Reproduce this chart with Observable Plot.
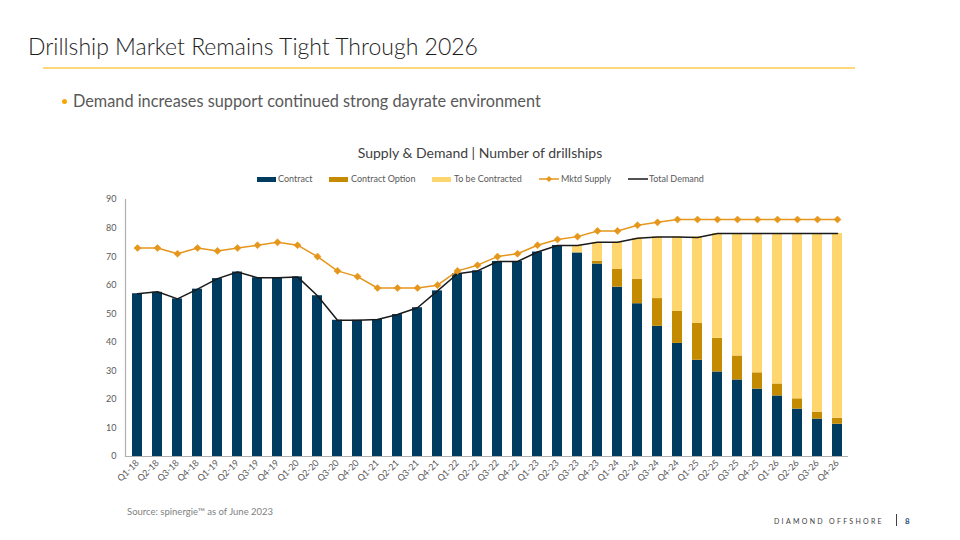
<!DOCTYPE html>
<html><head><meta charset="utf-8">
<script src="https://cdn.jsdelivr.net/npm/d3@7"></script>
<script src="https://cdn.jsdelivr.net/npm/@observablehq/plot@0.6"></script>
<style>
body{margin:0;background:#fff;}
#page{position:relative;width:960px;height:540px;overflow:hidden;font-family:Lato,"Open Sans",sans-serif;}
.abs{position:absolute;white-space:nowrap;}
#title{left:28px;top:32px;font-size:23px;font-weight:300;color:#1e1e1e;}
#rule{left:43px;top:67px;width:812px;height:2px;background:#FFD77A;}
#bullet{left:73px;top:91px;font-size:16.3px;color:#595959;}
#dot{left:62px;top:99px;width:5px;height:5px;border-radius:50%;background:#F5A800;}
#ctitle{left:0;width:960px;text-align:center;top:144px;font-size:14px;color:#404040;}
.lg{position:absolute;top:173px;font-size:9px;color:#595959;line-height:12px;}
.sw{position:absolute;top:177px;height:5px;}
#chart{left:80px;top:190px;}
#source{left:127px;top:506px;font-size:9.5px;color:#7f7f7f;}
#brand{left:774px;top:517px;font-size:7px;letter-spacing:2.3px;color:#404040;}
#bar{left:896px;top:514px;width:0;height:12px;border-left:1px solid #404040;}
#pg{left:905px;top:516px;font-size:8px;font-weight:bold;color:#1F4E79;}
</style></head>
<body><div id="page">
<div id="title" class="abs">Drillship Market Remains Tight Through 2026</div>
<div id="rule" class="abs"></div>
<div id="dot" class="abs"></div>
<div id="bullet" class="abs">Demand increases support continued strong dayrate environment</div>
<div id="ctitle" class="abs">Supply &amp; Demand | Number of drillships</div>
<div id="legend"></div>
<div id="chart" class="abs"></div>
<div id="source" class="abs">Source: spinergie™ as of June 2023</div>
<div id="brand" class="abs">DIAMOND OFFSHORE</div>
<div id="bar" class="abs"></div>
<div id="pg" class="abs">8</div>
</div>
<script>
const quarters = ["Q1-18","Q2-18","Q3-18","Q4-18","Q1-19","Q2-19","Q3-19","Q4-19","Q1-20","Q2-20","Q3-20","Q4-20","Q1-21","Q2-21","Q3-21","Q4-21","Q1-22","Q2-22","Q3-22","Q4-22","Q1-23","Q2-23","Q3-23","Q4-23","Q1-24","Q2-24","Q3-24","Q4-24","Q1-25","Q2-25","Q3-25","Q4-25","Q1-26","Q2-26","Q3-26","Q4-26"];
const contract = [57,57.5,55.2,58.6,62.3,64.6,62.6,62.6,62.9,56.3,47.7,47.7,48,49.7,52.1,58,64,65,68.3,68.3,71.6,73.9,71.3,67.4,59.3,53.5,45.6,39.6,33.7,29.6,26.8,23.6,21.2,16.6,13.1,11.3];
const contractOption = [0,0,0,0,0,0,0,0,0,0,0,0,0,0,0,0,0,0,0,0,0,0,0,1.0,6.2,8.6,9.7,11.2,12.9,11.8,8.4,5.7,4.2,3.6,2.4,2.1];
const toBeContracted = [0,0,0,0,0,0,0,0,0,0,0,0,0,0,0,0,0,0,0,0,0,0,2.6,6.6,9.5,14.3,21.6,26.1,30.3,36.7,42.9,48.8,52.7,57.9,62.6,64.7];
const mktdSupply = [73,73,71,73,72,73,74,75,74,70,65,63,59,59,59,60,65,67,70,71,74,76,77,79,79,81,82,83,83,83,83,83,83,83,83,83];
const totalDemand = [57,57.7,55.2,58.6,62.3,64.6,62.6,62.6,62.9,56.3,47.7,47.7,48,49.7,52.1,58,64,65,68.3,68.3,71.6,73.9,73.9,75,75,76.4,76.9,76.9,76.7,78.1,78.1,78.1,78.1,78.1,78.1,78.1];
const yTicks = [0,10,20,30,40,50,60,70,80,90];
const seriesNames = ["Contract","Contract Option","To be Contracted"];
const seriesColors = ["#003C5F","#C58B00","#FFD66E"];
const supplyColor = "#E5961B";
const demandColor = "#1a1a1a";

// legend
const legend = document.getElementById("legend");
const legendItems = [
  {name:"Contract", sx:257, tx:278, kind:"bar", color:seriesColors[0]},
  {name:"Contract Option", sx:329, tx:351, kind:"bar", color:seriesColors[1]},
  {name:"To be Contracted", sx:432, tx:454, kind:"bar", color:seriesColors[2]},
  {name:"Mktd Supply", sx:539, tx:561, kind:"marker", color:supplyColor},
  {name:"Total Demand", sx:628, tx:649, kind:"line", color:demandColor}
];
legendItems.forEach(it=>{
  if(it.kind==="bar"){
    const s=document.createElement("div");s.className="sw";
    s.style.left=it.sx+"px";s.style.width="19px";s.style.background=it.color;legend.appendChild(s);
  } else {
    const ns="http://www.w3.org/2000/svg";
    const svg=document.createElementNS(ns,"svg");
    svg.setAttribute("width","20");svg.setAttribute("height","10");
    svg.style.position="absolute";svg.style.left=it.sx+"px";svg.style.top="174px";
    const l=document.createElementNS(ns,"line");
    l.setAttribute("x1","0");l.setAttribute("x2","20");l.setAttribute("y1","5");l.setAttribute("y2","5");
    l.setAttribute("stroke",it.color);l.setAttribute("stroke-width","1.5");svg.appendChild(l);
    if(it.kind==="marker"){
      const p=document.createElementNS(ns,"path");
      p.setAttribute("d","M10,2L13,5L10,8L7,5Z");p.setAttribute("fill",it.color);svg.appendChild(p);
    }
    legend.appendChild(svg);
  }
  const t=document.createElement("div");t.className="lg";t.style.left=it.tx+"px";t.textContent=it.name;legend.appendChild(t);
});

const stacked = [];
quarters.forEach((q,i)=>{
  stacked.push({q, type:seriesNames[0], v:contract[i]});
  stacked.push({q, type:seriesNames[1], v:contractOption[i]});
  stacked.push({q, type:seriesNames[2], v:toBeContracted[i]});
});
const lines = quarters.map((q,i)=>({q, supply:mktdSupply[i], demand:totalDemand[i]}));

const chart = Plot.plot({
  width:790, height:320,
  marginLeft:45, marginRight:22, marginTop:9, marginBottom:54,
  style:{fontFamily:"Lato, 'Open Sans', sans-serif", fontSize:"9px", color:"#595959", background:"transparent"},
  x:{domain:quarters, paddingInner:0.5, paddingOuter:0.25, label:null},
  y:{domain:[0,90], label:null},
  color:{domain:seriesNames, range:seriesColors},
  marks:[
    Plot.barY(stacked, {x:"q", y:"v", fill:"type"}),
    Plot.ruleY([0], {stroke:"#AFAFAF", strokeWidth:1.2}),
    Plot.frame({anchor:"left", stroke:"#AFAFAF", strokeWidth:1.2}),
    Plot.line(lines, {x:"q", y:"demand", stroke:demandColor, strokeWidth:1.5}),
    Plot.line(lines, {x:"q", y:"supply", stroke:supplyColor, strokeWidth:1.5}),
    Plot.dot(lines, {x:"q", y:"supply", symbol:"diamond2", r:3.2, fill:supplyColor, stroke:supplyColor, strokeWidth:0.5}),
    Plot.axisY({ticks:yTicks, tickSize:0, tickPadding:9, label:null}),
    Plot.axisX({tickRotate:-45, tickSize:0, tickPadding:5, label:null})
  ]
});
document.getElementById("chart").appendChild(chart);
</script>
</body></html>
